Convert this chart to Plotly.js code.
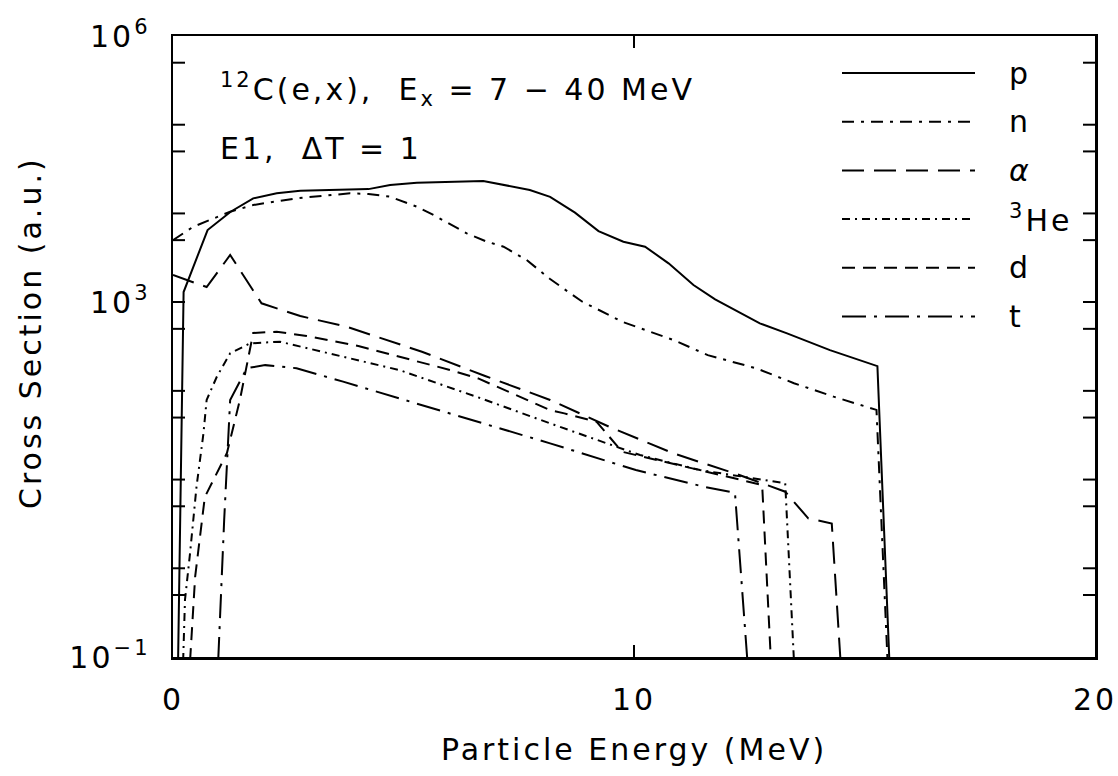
<!DOCTYPE html>
<html><head><meta charset="utf-8">
<script src="https://cdn.plot.ly/plotly-3.0.1.min.js"></script>
<style>body{margin:0;background:#fff} text{letter-spacing:3px}</style>
</head><body>
<div id="chart" style="width:1118px;height:776px"></div>
<script>
// Particle energy (MeV) and cross sections (a.u.) per emitted particle
const E_p = [0.11, 0.23, 0.75, 1.25, 1.74, 2.25, 2.76, 4.24, 4.71, 5.29, 6.73, 7.74, 8.18, 8.72, 9.23, 9.77, 10.24, 10.75, 11.29, 11.76, 12.73, 13.32, 14.25, 15.28, 15.54];
const y_p = [0.09, 1300, 6500, 10450, 14800, 16900, 18000, 18800, 20900, 22200, 23200, 18400, 15400, 10200, 6330, 4800, 4220, 2740, 1560, 1075, 577, 445, 288, 190, 0.09];

const E_n = [0, 0.44, 1.24, 1.74, 2.68, 3.84, 4.24, 4.71, 5.29, 5.65, 6.37, 6.81, 7.17, 7.67, 8.18, 8.41, 8.88, 9.46, 9.74, 10.86, 11.60, 12.66, 13.47, 14.33, 15.26, 15.50];
const y_n = [5000, 7080, 10450, 12440, 14800, 16850, 16560, 15420, 11900, 9600, 5970, 4800, 4220, 2990, 1820, 1490, 1010, 716, 601, 374, 253, 179, 122, 86, 61, 0.09];

const E_a = [0, 0.73, 1.24, 1.92, 2.76, 3.77, 5.40, 6.77, 8.18, 9.46, 10.86, 12.30, 13.28, 13.78, 14.29, 14.48];
const y_a = [2020, 1480, 3400, 970, 697, 528, 276, 147, 79, 39.4, 19.7, 11.2, 7.3, 3.65, 3.2, 0.09];

const E_h = [0.22, 0.26, 0.37, 0.51, 0.66, 0.73, 0.95, 1.24, 1.67, 2.32, 4.92, 6.66, 8.18, 10.13, 11.43, 13.28, 13.47];
const y_h = [0.09, 0.44, 1.48, 8.3, 33, 79, 144, 265, 343, 358, 171, 83, 43, 18.9, 12.8, 9.1, 0.09];

const E_d = [0.37, 0.48, 0.69, 1.17, 1.45, 1.74, 2.25, 2.90, 4.02, 6.01, 6.62, 8.18, 8.49, 9.19, 9.74, 11.43, 12.78, 12.97];
const y_d = [0.09, 0.8, 6.35, 19.9, 78.7, 449, 464, 415, 320, 172, 138, 60.8, 55.7, 44.8, 20.6, 12.8, 8.7, 0.09];

const E_t = [0.98, 1.11, 1.24, 1.60, 2.00, 2.68, 3.69, 8.18, 10.04, 11.52, 12.19, 12.46];
const y_t = [0.09, 3.5, 79, 180, 195, 180, 127, 25.6, 12.8, 8.3, 7.1, 0.09];

const seriesNames = ['p', 'n', '<i>α</i>', '<sup>3</sup>He', 'd', 't'];
const xTickVals = [0, 10, 20];
const xTickText = ['0', '10', '20'];
const yTickVals = [0.1, 1000, 1e6];
const yTickText = ['10<sup>−1</sup>', '10<sup>3</sup>', '10<sup>6</sup>'];
const yMinorVals = [0.5, 1, 5, 10, 50, 100, 500, 5000, 1e4, 5e4, 1e5, 5e5];

const dashes = ['solid', '12px,7px,3px,7px', '22px,10px', '8px,5px,2px,5px', '13px,8px', '24px,8px,3px,8px'];
const xs = [E_p, E_n, E_a, E_h, E_d, E_t];
const ys = [y_p, y_n, y_a, y_h, y_d, y_t];

const FONT = 'DejaVu Sans, sans-serif';
const FS = 30;
const Y_LOG_MIN = -1, Y_LOG_MAX = 6;
const traces = xs.map((x, i) => ({
  x: x, y: ys[i], type: 'scatter', mode: 'lines', name: seriesNames[i],
  line: {color: '#000', width: 2, dash: dashes[i]}, showlegend: false, hoverinfo: 'skip'
}));

const plotTop = 36, plotBot = 657, plotL = 173, plotR = 1095;
const py = v => (plotBot - v) / (plotBot - plotTop);
const px = v => (v - plotL) / (plotR - plotL);
const tickFrac = 12 / (plotR - plotL);

const shapes = [];
// unlabelled y ticks (inside, both sides)
yMinorVals.forEach(v => {
  const f = (Math.log10(v) - Y_LOG_MIN) / (Y_LOG_MAX - Y_LOG_MIN);
  shapes.push({type: 'line', xref: 'paper', yref: 'paper', x0: 0, x1: tickFrac, y0: f, y1: f, line: {color: '#000', width: 2}});
  shapes.push({type: 'line', xref: 'paper', yref: 'paper', x0: 1 - tickFrac, x1: 1, y0: f, y1: f, line: {color: '#000', width: 2}});
});
// Legend drawn as paper-anchored samples
const legRowsPx = [73, 121.7, 170.4, 219, 267.8, 316.5];
legRowsPx.forEach((r, i) => shapes.push({
  type: 'line', xref: 'paper', yref: 'paper', x0: px(842), x1: px(975), y0: py(r), y1: py(r),
  line: {color: '#000', width: 2, dash: dashes[i]}
}));
const annotations = legRowsPx.map((r, i) => ({
  xref: 'paper', yref: 'paper', x: px(1007), y: py(r), xanchor: 'left', yanchor: 'middle',
  text: seriesNames[i], showarrow: false, font: {family: FONT, size: FS, color: '#000'}
}));
annotations.push({
  xref: 'paper', yref: 'paper', x: px(218), y: py(89), xanchor: 'left', yanchor: 'middle',
  text: '<sup>12</sup>C(e,x),  E<sub>x</sub> = 7 − 40 MeV', showarrow: false,
  font: {family: FONT, size: FS, color: '#000'}
});
annotations.push({
  xref: 'paper', yref: 'paper', x: px(218), y: py(148), xanchor: 'left', yanchor: 'middle',
  text: 'E1,  ΔT = 1', showarrow: false,
  font: {family: FONT, size: FS, color: '#000'}
});
annotations.push({
  xref: 'paper', yref: 'paper', x: px(30), y: py(333), xanchor: 'center', yanchor: 'middle',
  text: 'Cross Section (a.u.)', textangle: -90, showarrow: false,
  font: {family: FONT, size: FS, color: '#000'}
});

const layout = {
  width: 1118, height: 776,
  margin: {l: plotL, r: 1118 - plotR, t: plotTop, b: 776 - plotBot},
  paper_bgcolor: '#fff', plot_bgcolor: '#fff',
  font: {family: FONT, color: '#000', size: FS},
  xaxis: {
    range: [0, 20], tickvals: xTickVals, ticktext: xTickText,
    ticks: 'inside', ticklen: 12, tickwidth: 2, tickcolor: '#000',
    showline: true, linewidth: 2.5, linecolor: '#000', mirror: 'ticks',
    showgrid: false, zeroline: false, ticklabelstandoff: 14,
    tickfont: {family: FONT, size: FS},
    title: {text: 'Particle Energy (MeV)', font: {family: FONT, size: FS}, standoff: 24}
  },
  yaxis: {
    type: 'log', range: [Y_LOG_MIN, Y_LOG_MAX], tickvals: yTickVals, ticktext: yTickText,
    ticks: 'inside', ticklen: 12, tickwidth: 2, tickcolor: '#000',
    showline: true, linewidth: 2.5, linecolor: '#000', mirror: 'ticks',
    showgrid: false, zeroline: false, ticklabelstandoff: 14,
    tickfont: {family: FONT, size: FS}
  },
  shapes: shapes, annotations: annotations
};

Plotly.newPlot('chart', traces, layout, {staticPlot: true, displayModeBar: false});
</script>
</body></html>
